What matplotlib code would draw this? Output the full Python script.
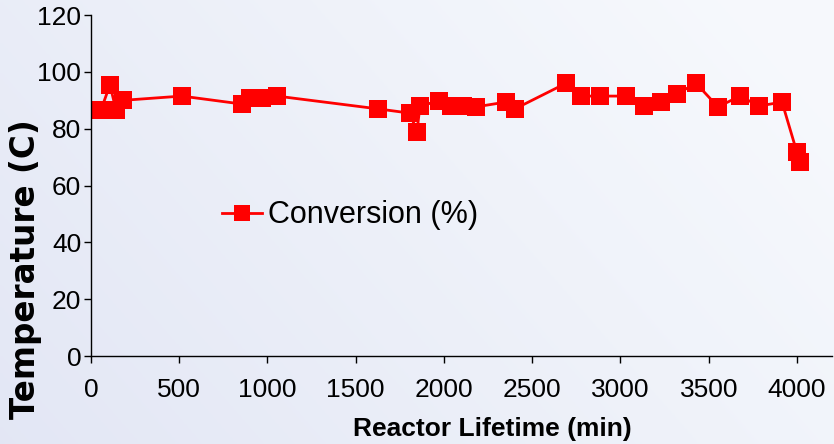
import numpy as np
import matplotlib
matplotlib.use('Agg')
import matplotlib.pyplot as plt

# reactor lifetime (min) and conversion (%)
lifetime = [57, 108, 142, 181, 515, 855, 900, 969, 1054, 1626,
            1807, 1847, 1864, 1972, 2040, 2108, 2181, 2351, 2402, 2691,
            2776, 2884, 3031, 3133, 3229, 3320, 3428, 3552, 3677, 3785,
            3915, 3999, 4017]
conversion = [86.6, 95.5, 86.6, 90.0, 91.5, 88.7, 90.8, 90.8, 91.5, 87.0,
              85.5, 79.0, 88.0, 89.8, 88.0, 88.0, 87.7, 89.4, 87.0, 96.0,
              91.5, 91.5, 91.5, 88.0, 89.4, 92.3, 96.0, 87.7, 91.5, 88.0,
              89.4, 71.8, 68.3]
x_ticks = [0, 500, 1000, 1500, 2000, 2500, 3000, 3500, 4000]
y_ticks = [0, 20, 40, 60, 80, 100, 120]

plt.rcParams['font.family'] = ['Liberation Sans', 'DejaVu Sans']

fig = plt.figure(figsize=(8.34, 4.44), dpi=100)

# soft lavender-to-white background
bg = fig.add_axes([0, 0, 1, 1], zorder=-10)
gx, gy = np.meshgrid(np.linspace(0, 1, 200), np.linspace(0, 1, 200))
t = np.clip(0.75 * gx + 0.35 * (1 - gy), 0, 1)
c0 = np.array([0.89, 0.905, 0.96])
c1 = np.array([0.965, 0.975, 0.99])
img = c0[None, None, :] * (1 - t[..., None]) + c1[None, None, :] * t[..., None]
bg.imshow(img, aspect='auto', extent=[0, 1, 0, 1], origin='upper')
bg.axis('off')

ax = fig.add_axes([0.109, 0.198, 0.889, 0.768])
ax.patch.set_alpha(0)
ax.plot(lifetime, conversion, color='#ff0000', lw=2.0, marker='s',
        markersize=13, markeredgewidth=0, label='Conversion (%)', clip_on=False)

ax.set_xlim(0, 4200)
ax.set_ylim(0, 120)
ax.set_xticks(x_ticks)
ax.set_yticks(y_ticks)
ax.tick_params(labelsize=19, length=5, width=1, direction='out', pad=2)
ax.tick_params(axis='x', pad=11)
for s in ['top', 'right']:
    ax.spines[s].set_visible(False)
ax.spines['left'].set_linewidth(1)
ax.spines['bottom'].set_linewidth(1)

ax.set_xlabel('Reactor Lifetime (min)', fontsize=19, fontweight='bold')
ax.xaxis.set_label_coords(0.541, -0.178)
ax.set_ylabel('Temperature (C)', fontsize=23.5, fontweight='bold',
              family=['DejaVu Sans'])
ax.yaxis.set_label_coords(-0.066, 0.255)

ax.legend(loc='center left', bbox_to_anchor=(0.177, 0.413), frameon=False,
          fontsize=22, handlelength=1.3, handletextpad=0.2, borderpad=0,
          borderaxespad=0, markerscale=0.85)

plt.savefig('out.png', dpi=100)
plt.close()
